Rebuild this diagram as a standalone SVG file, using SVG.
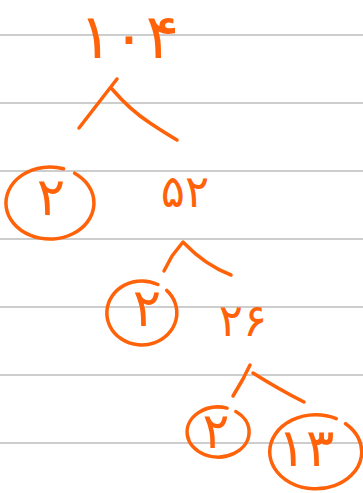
<svg xmlns="http://www.w3.org/2000/svg" width="363" height="493" viewBox="0 0 363 493">
<style>
.rule{stroke:#bdbdbd;stroke-width:1.5;fill:none}
.ink{stroke:#ff6208;stroke-width:3.5;fill:none;stroke-linecap:round;stroke-linejoin:round}
.num{fill:#ff6208;font-family:"DejaVu Sans",sans-serif;text-anchor:middle}
</style>
<rect width="363" height="493" fill="#ffffff"/>
<g id="rules">
<line class="rule" x1="0" y1="35" x2="363" y2="35"/>
<line class="rule" x1="0" y1="103" x2="363" y2="103"/>
<line class="rule" x1="0" y1="171" x2="363" y2="171"/>
<line class="rule" x1="0" y1="239" x2="363" y2="239"/>
<line class="rule" x1="0" y1="307" x2="363" y2="307"/>
<line class="rule" x1="0" y1="375" x2="363" y2="375"/>
<line class="rule" x1="0" y1="443" x2="363" y2="443"/>
</g>
<g id="connectors">
<path class="ink" d="M117,79 L110,88 L79,128"/>
<path class="ink" d="M112,89 Q130,110 150,123 Q165,133 177,140"/>
<path class="ink" d="M183,242 L172,256 L164,271"/>
<path class="ink" d="M184,243 Q205,265 231,275"/>
<path class="ink" d="M250,365 L243,379 L233,396"/>
<path class="ink" d="M253,373 Q280,390 304,402"/>
</g>
<g id="n104"><text class="num" x="129" y="58" font-size="62" letter-spacing="5">۱۰۴</text></g>
<g id="n2a">
<path class="ink" d="M74.6,173.2 A44,36 0 1 1 63.6,168.8"/>
<text class="num" x="51" y="215" font-size="53">۲</text>
</g>
<g id="n52"><text class="num" x="185" y="207" font-size="45">۵۲</text></g>
<g id="n2b">
<path class="ink" d="M166.7,290.4 A35,32 0 1 1 157.9,284.5"/>
<text class="num" x="147" y="326" font-size="53">۲</text>
</g>
<g id="n26"><text class="num" x="243" y="336" font-size="45">۲۶</text></g>
<g id="n2c">
<path class="ink" d="M235.8,411.5 A31,25 0 1 1 227.1,408.1"/>
<text class="num" x="216" y="448" font-size="50">۲</text>
</g>
<g id="n13">
<path class="ink" d="M345.6,423.7 A46,37 0 1 1 336.2,418.7"/>
<text class="num" x="306" y="466" font-size="53">۱۳</text>
</g>
</svg>
